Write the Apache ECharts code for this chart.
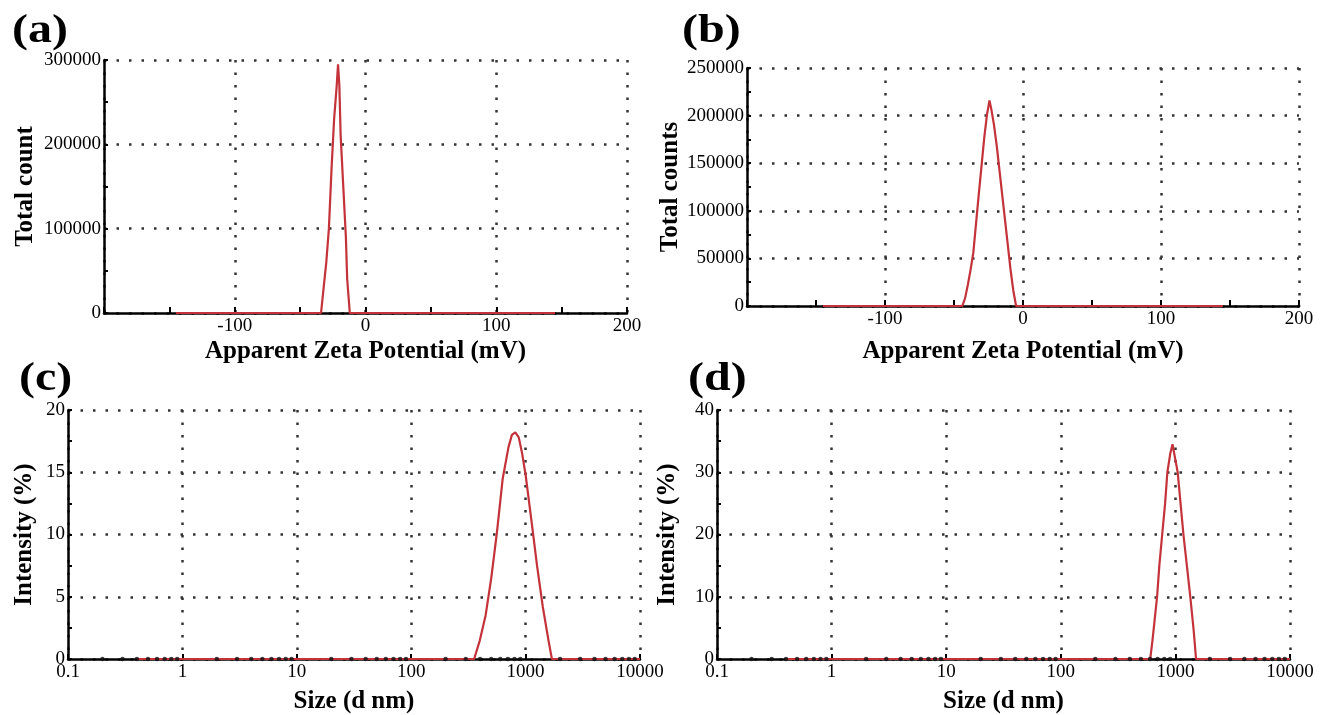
<!DOCTYPE html>
<html>
<head>
<meta charset="utf-8">
<script src="https://cdn.jsdelivr.net/npm/echarts@6/dist/echarts.min.js"></script>
<style>
  html, body { margin: 0; background: #fff; }
  #chart { width: 1326px; height: 715px; }
</style>
</head>
<body>
<div id="chart"></div>
<script>
// (a) zeta potential, sample 1
const zetaA_mv = [-145, -34, -32, -30, -28, -26, -24, -22, -21, -20, -19, -17, -15, -14, -12, 145];
const zetaA_count = [0, 0, 30000, 60000, 100000, 170000, 230000, 270000, 295000, 270000, 210000, 150000, 90000, 40000, 0, 0];

// (b) zeta potential, sample 2
const zetaB_mv = [-145, -44, -42, -40, -38, -36, -34, -32, -30, -28, -26, -25, -24.3, -23, -21, -19, -17, -15, -13, -11, -9, -7, -5, 145];
const zetaB_count = [0, 0, 8000, 22000, 38000, 56000, 87000, 118000, 148000, 178000, 202000, 210000, 216000, 207000, 190000, 168000, 142000, 116000, 90000, 64000, 38000, 16000, 0, 0];

// (c) size distribution, sample 1
const sizeC_nm = [0.4, 355, 398, 447, 501, 562, 631, 708, 759, 813, 871, 933, 1000, 1122, 1259, 1413, 1585, 1698, 10000];
const sizeC_int = [0, 0, 1.5, 3.5, 6.5, 10.2, 14.5, 17.0, 18.0, 18.2, 17.8, 16.5, 14.8, 11.2, 7.5, 4.2, 1.5, 0, 0];

// (d) size distribution, sample 2
const sizeD_nm = [0.4, 603, 631, 692, 724, 767, 813, 851, 902, 944, 977, 1047, 1109, 1175, 1259, 1349, 1445, 1514, 10000];
const sizeD_int = [0, 0, 3, 10, 15, 20, 25, 30, 33, 34.5, 33, 30, 25, 20, 15, 10, 4.5, 0, 0];

// minor tick positions on the log size axes
const logMinorTicks = [];
[0.1, 1, 10, 100, 1000].forEach(d => { for (let k = 2; k <= 9; k++) logMinorTicks.push(+(d * k).toPrecision(3)); });

const panelLabels = ['(a)', '(b)', '(c)', '(d)'];

const serif = '"Liberation Serif", "DejaVu Serif", serif';
const red = '#c4323a';
const dots = { color: '#333', width: 2.5, type: [2.5, 10] };
const blackLine = { color: '#000', width: 2 };
const titleStyle = { fontFamily: serif, fontWeight: 'bold', fontSize: 25, color: '#000' };
const tickFont = { fontFamily: serif, fontSize: 19, color: '#000' };

const zip = (xs, ys) => xs.map((x, i) => [x, ys[i]]);

function xValueAxis(gi, name, gap) {
  return {
    gridIndex: gi, type: 'value', min: -200, max: 200, interval: 100,
    axisLine: { onZero: false, lineStyle: { color: '#000', width: 2.5 } },
    axisTick: { inside: true, length: 6, lineStyle: blackLine },
    minorTick: { show: true, splitNumber: 2, length: 6, lineStyle: blackLine },
    axisLabel: Object.assign({ formatter: v => (v === -200 ? '' : String(v)), margin: 4 }, tickFont),
    splitLine: { show: true, lineStyle: dots },
    name, nameLocation: 'middle', nameGap: gap, nameTextStyle: titleStyle
  };
}

function xLogAxis(gi, name) {
  return {
    gridIndex: gi, type: 'log', logBase: 10, min: 0.1, max: 10000,
    axisLine: { onZero: false, lineStyle: { color: '#000', width: 2.5 } },
    axisTick: { inside: true, length: 5, lineStyle: blackLine },
    axisLabel: Object.assign({ formatter: v => String(+v.toPrecision(3)), margin: 4, showMaxLabel: true }, tickFont),
    splitLine: { show: true, lineStyle: dots },
    name, nameLocation: 'middle', nameGap: 30, nameTextStyle: titleStyle
  };
}

function yAxis(gi, max, interval, name, gap) {
  return {
    gridIndex: gi, type: 'value', min: 0, max, interval,
    axisLine: { show: true, onZero: false, lineStyle: { color: '#000', width: 2.5 } },
    axisTick: { show: true, inside: true, length: 4, lineStyle: blackLine },
    minorTick: { show: true, splitNumber: 2, length: 4, lineStyle: blackLine },
    axisLabel: Object.assign({ formatter: v => String(v), margin: 3 }, tickFont),
    splitLine: { show: true, lineStyle: dots },
    name, nameLocation: 'middle', nameGap: gap, nameRotate: 90, nameTextStyle: titleStyle
  };
}

function curve(gi, data) {
  return {
    type: 'line', xAxisIndex: gi, yAxisIndex: gi, data, showSymbol: false,
    lineStyle: { color: red, width: 2.2 }, z: 3, animation: false
  };
}

function minorDots(gi) {
  return {
    type: 'scatter', xAxisIndex: gi, yAxisIndex: gi, data: logMinorTicks.map(v => [v, 0]),
    symbol: 'circle', symbolSize: 4.5, itemStyle: { color: '#111' }, z: 4, silent: true, animation: false
  };
}

const labelPos = [[12, 12], [682, 12], [19, 360], [688, 360]];

const chart = echarts.init(document.getElementById('chart'), null, { renderer: 'canvas' });
chart.setOption({
  backgroundColor: '#fff',
  animation: false,
  grid: [
    { left: 104, top: 60, width: 523, height: 253 },
    { left: 747, top: 68, width: 552, height: 238 },
    { left: 68, top: 410, width: 572, height: 252 },
    { left: 717, top: 410, width: 573, height: 251 }
  ],
  xAxis: [
    xValueAxis(0, 'Apparent Zeta Potential (mV)', 26),
    xValueAxis(1, 'Apparent Zeta Potential (mV)', 33),
    xLogAxis(2, 'Size (d nm)'),
    xLogAxis(3, 'Size (d nm)')
  ],
  yAxis: [
    yAxis(0, 300000, 100000, 'Total count', 66),
    yAxis(1, 250000, 50000, 'Total counts', 63),
    yAxis(2, 20, 5, 'Intensity (%)', 31),
    yAxis(3, 40, 10, 'Intensity (%)', 37)
  ],
  series: [
    curve(0, zip(zetaA_mv, zetaA_count)),
    curve(1, zip(zetaB_mv, zetaB_count)),
    curve(2, zip(sizeC_nm, sizeC_int)),
    curve(3, zip(sizeD_nm, sizeD_int)),
    minorDots(2),
    minorDots(3)
  ],
  graphic: panelLabels.map((t, i) => ({
    type: 'text', x: labelPos[i][0], y: labelPos[i][1], scaleX: 1.2,
    style: { text: t, font: 'bold 40px ' + serif, fill: '#000', verticalAlign: 'top' }
  }))
});
</script>
</body>
</html>
